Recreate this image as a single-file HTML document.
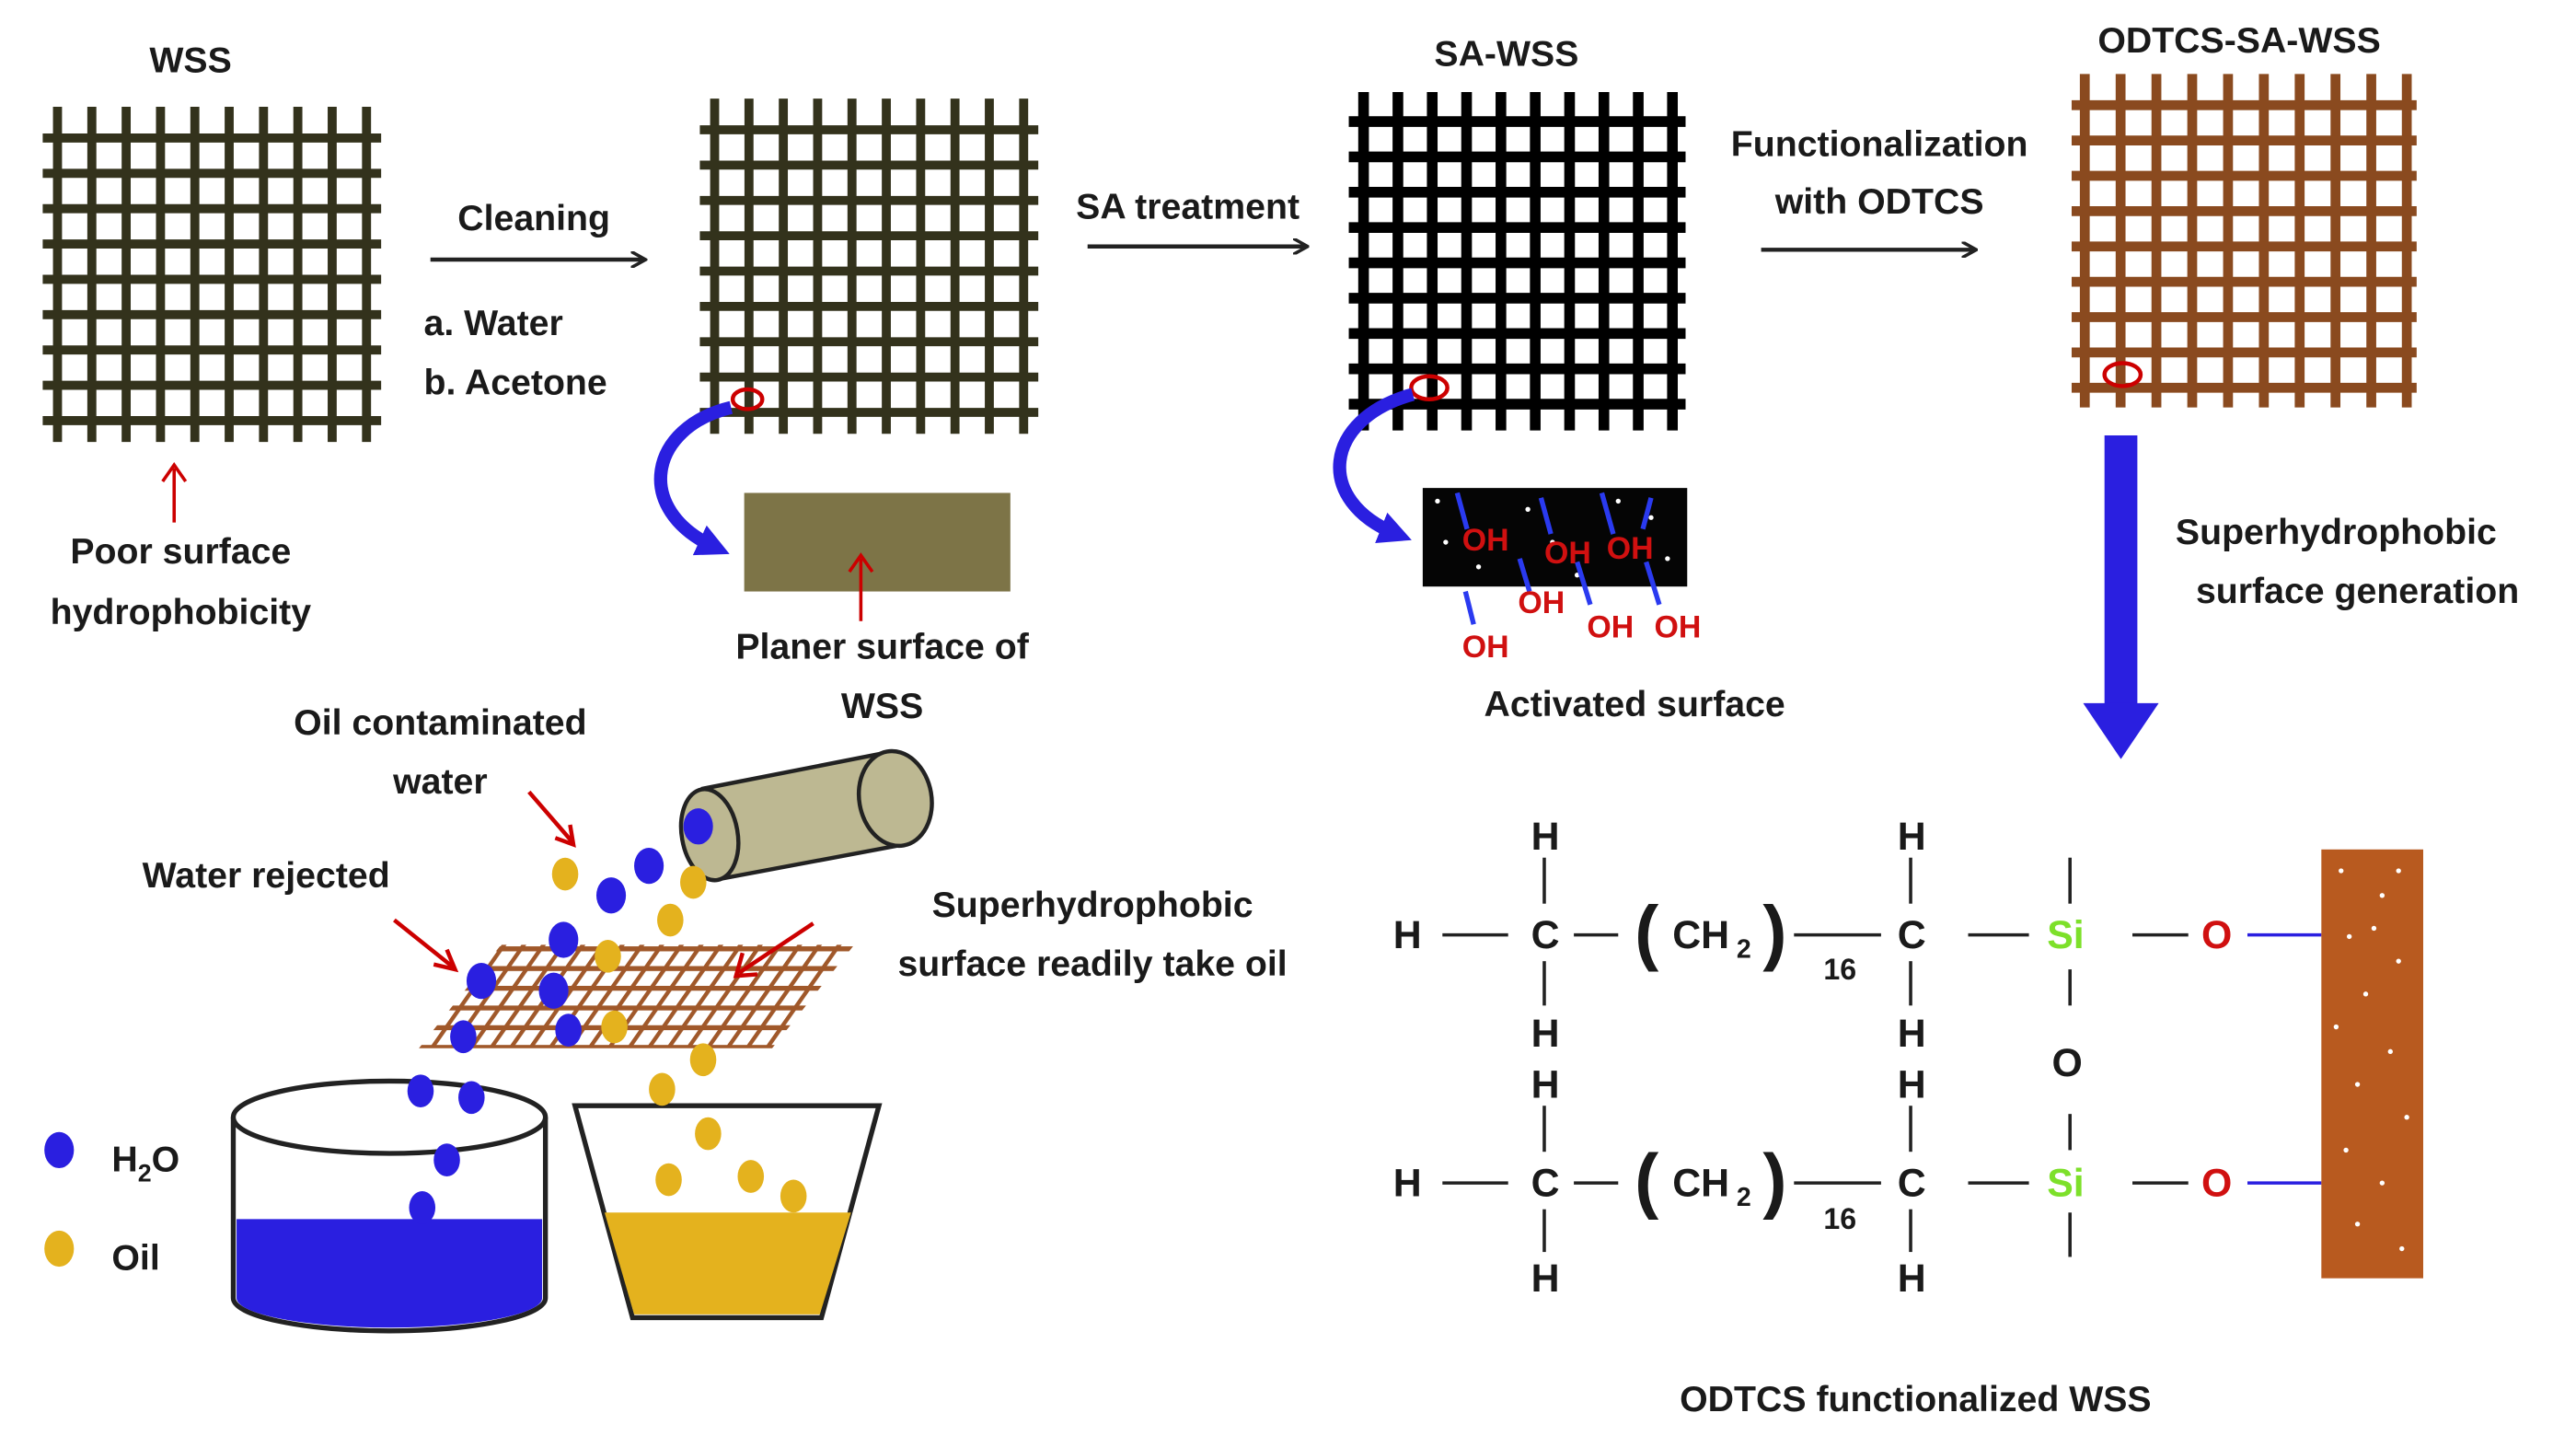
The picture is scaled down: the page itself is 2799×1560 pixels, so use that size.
<!DOCTYPE html>
<html><head><meta charset="utf-8"><style>
html,body{margin:0;padding:0;background:#fff}
svg{display:block}
text{font-family:"Liberation Sans",sans-serif;font-weight:bold;fill:#1a1a1a}
</style></head><body>
<svg width="2799" height="1560" viewBox="0 0 1568 874" preserveAspectRatio="none" xmlns="http://www.w3.org/2000/svg">
<defs>
<pattern id="g5" width="12" height="12" patternUnits="userSpaceOnUse" patternTransform="skewX(-35)">
<rect x="0" y="0" width="3" height="12" fill="#a0582a"/><rect x="0" y="0" width="12" height="3" fill="#a0582a"/></pattern>
<marker id="ah" markerWidth="10" markerHeight="10" refX="8" refY="5" orient="auto" markerUnits="userSpaceOnUse"><path d="M0,0 L9,5 L0,10" fill="none" stroke="#222" stroke-width="2"/></marker>
<marker id="bh" markerWidth="20" markerHeight="20" refX="10" refY="10" orient="auto" markerUnits="userSpaceOnUse"><path d="M0,0 L20,10 L0,20 Z" fill="#2a1fe0"/></marker>
<g id="wss" stroke="#33321c" stroke-width="5.5">
<line x1="35" y1="65" x2="35" y2="269"/><line x1="55.9" y1="65" x2="55.9" y2="269"/><line x1="76.8" y1="65" x2="76.8" y2="269"/><line x1="97.7" y1="65" x2="97.7" y2="269"/><line x1="118.6" y1="65" x2="118.6" y2="269"/><line x1="139.5" y1="65" x2="139.5" y2="269"/><line x1="160.4" y1="65" x2="160.4" y2="269"/><line x1="181.3" y1="65" x2="181.3" y2="269"/><line x1="202.2" y1="65" x2="202.2" y2="269"/><line x1="223.1" y1="65" x2="223.1" y2="269"/>
<line x1="26" y1="84" x2="232" y2="84"/><line x1="26" y1="105.5" x2="232" y2="105.5"/><line x1="26" y1="127" x2="232" y2="127"/><line x1="26" y1="148.5" x2="232" y2="148.5"/><line x1="26" y1="170" x2="232" y2="170"/><line x1="26" y1="191.5" x2="232" y2="191.5"/><line x1="26" y1="213" x2="232" y2="213"/><line x1="26" y1="234.5" x2="232" y2="234.5"/><line x1="26" y1="256" x2="232" y2="256"/>
</g>
</defs>

<!-- grids -->
<use href="#wss"/>
<use href="#wss" x="400" y="-5"/>
<g stroke="#000" stroke-width="6.5">
<line x1="830" y1="56" x2="830" y2="262"/><line x1="850.9" y1="56" x2="850.9" y2="262"/><line x1="871.8" y1="56" x2="871.8" y2="262"/><line x1="892.7" y1="56" x2="892.7" y2="262"/><line x1="913.6" y1="56" x2="913.6" y2="262"/><line x1="934.5" y1="56" x2="934.5" y2="262"/><line x1="955.4" y1="56" x2="955.4" y2="262"/><line x1="976.3" y1="56" x2="976.3" y2="262"/><line x1="997.2" y1="56" x2="997.2" y2="262"/><line x1="1018" y1="56" x2="1018" y2="262"/>
<line x1="821" y1="74" x2="1026" y2="74"/><line x1="821" y1="95.5" x2="1026" y2="95.5"/><line x1="821" y1="117" x2="1026" y2="117"/><line x1="821" y1="138.5" x2="1026" y2="138.5"/><line x1="821" y1="160" x2="1026" y2="160"/><line x1="821" y1="181.5" x2="1026" y2="181.5"/><line x1="821" y1="203" x2="1026" y2="203"/><line x1="821" y1="224.5" x2="1026" y2="224.5"/><line x1="821" y1="246" x2="1026" y2="246"/>
</g>
<g stroke="#8a4a1f" stroke-width="6">
<line x1="1269" y1="45" x2="1269" y2="248"/><line x1="1290.8" y1="45" x2="1290.8" y2="248"/><line x1="1312.6" y1="45" x2="1312.6" y2="248"/><line x1="1334.4" y1="45" x2="1334.4" y2="248"/><line x1="1356.2" y1="45" x2="1356.2" y2="248"/><line x1="1378" y1="45" x2="1378" y2="248"/><line x1="1399.8" y1="45" x2="1399.8" y2="248"/><line x1="1421.6" y1="45" x2="1421.6" y2="248"/><line x1="1443.4" y1="45" x2="1443.4" y2="248"/><line x1="1465" y1="45" x2="1465" y2="248"/>
<line x1="1261" y1="64" x2="1471" y2="64"/><line x1="1261" y1="85.5" x2="1471" y2="85.5"/><line x1="1261" y1="107" x2="1471" y2="107"/><line x1="1261" y1="128.5" x2="1471" y2="128.5"/><line x1="1261" y1="150" x2="1471" y2="150"/><line x1="1261" y1="171.5" x2="1471" y2="171.5"/><line x1="1261" y1="193" x2="1471" y2="193"/><line x1="1261" y1="214.5" x2="1471" y2="214.5"/><line x1="1261" y1="236" x2="1471" y2="236"/>
</g>

<text x="116" y="44" font-size="22" text-anchor="middle">WSS</text>
<text x="917" y="40" font-size="22" text-anchor="middle">SA-WSS</text>
<text x="1363" y="32" font-size="22" text-anchor="middle">ODTCS-SA-WSS</text>

<!-- arrows -->
<line x1="262" y1="158" x2="392" y2="158" stroke="#222" stroke-width="2.5" marker-end="url(#ah)"/>
<text x="325" y="140" font-size="22" text-anchor="middle">Cleaning</text>
<text x="258" y="204" font-size="22">a. Water</text>
<text x="258" y="240" font-size="22">b. Acetone</text>
<line x1="662" y1="150" x2="795" y2="150" stroke="#222" stroke-width="2.5" marker-end="url(#ah)"/>
<text x="723" y="133" font-size="22" text-anchor="middle">SA treatment</text>
<line x1="1072" y1="152" x2="1202" y2="152" stroke="#222" stroke-width="2.5" marker-end="url(#ah)"/>
<text x="1144" y="95" font-size="22" text-anchor="middle">Functionalization</text>
<text x="1144" y="130" font-size="22" text-anchor="middle">with ODTCS</text>

<!-- red arrow WSS -->
<line x1="106" y1="318" x2="106" y2="285" stroke="#c00" stroke-width="2"/>
<path d="M99,293 L106,283 L113,293" fill="none" stroke="#c00" stroke-width="2"/>
<text x="110" y="343" font-size="22" text-anchor="middle">Poor surface</text>
<text x="110" y="380" font-size="22" text-anchor="middle">hydrophobicity</text>

<!-- planar -->
<ellipse cx="455" cy="243" rx="9" ry="6" fill="none" stroke="#c00" stroke-width="2.5"/>
<path d="M445,248 C395,260 385,310 435,333" fill="none" stroke="#2a1fe0" stroke-width="8" marker-end="url(#bh)"/>
<rect x="453" y="300" width="162" height="60" fill="#7d7447"/>
<line x1="524" y1="378" x2="524" y2="340" stroke="#c00" stroke-width="2"/>
<path d="M517,348 L524,338 L531,348" fill="none" stroke="#c00" stroke-width="2"/>
<text x="537" y="401" font-size="22" text-anchor="middle">Planer surface of</text>
<text x="537" y="437" font-size="22" text-anchor="middle">WSS</text>

<!-- activated -->
<ellipse cx="870" cy="236" rx="11" ry="7" fill="none" stroke="#c00" stroke-width="2.5"/>
<path d="M860,240 C805,255 800,305 850,325" fill="none" stroke="#2a1fe0" stroke-width="8" marker-end="url(#bh)"/>
<rect x="866" y="297" width="161" height="60" fill="#050505"/>
<g fill="#fff"><circle cx="875" cy="305" r="1.5"/><circle cx="900" cy="345" r="1.5"/><circle cx="930" cy="310" r="1.5"/><circle cx="960" cy="350" r="1.5"/><circle cx="985" cy="305" r="1.5"/><circle cx="1015" cy="340" r="1.5"/><circle cx="880" cy="330" r="1.5"/><circle cx="1005" cy="315" r="1.5"/><circle cx="945" cy="330" r="1.5"/></g>
<g stroke="#2a3af0" stroke-width="3">
<line x1="887" y1="300" x2="893" y2="322"/><line x1="938" y1="303" x2="944" y2="325"/><line x1="975" y1="300" x2="982" y2="325"/><line x1="925" y1="340" x2="931" y2="360"/><line x1="960" y1="342" x2="968" y2="368"/><line x1="1002" y1="342" x2="1010" y2="368"/><line x1="892" y1="360" x2="897" y2="380"/><line x1="1005" y1="303" x2="1000" y2="322"/></g>
<g font-size="19">
<text x="890" y="335" style="fill:#d01010">OH</text><text x="940" y="343" style="fill:#d01010">OH</text><text x="978" y="340" style="fill:#d01010">OH</text>
<text x="924" y="373" style="fill:#d01010">OH</text><text x="966" y="388" style="fill:#d01010">OH</text><text x="1007" y="388" style="fill:#d01010">OH</text><text x="890" y="400" style="fill:#d01010">OH</text></g>
<text x="995" y="436" font-size="22" text-anchor="middle">Activated surface</text>

<!-- ODTCS circle and big arrow -->
<ellipse cx="1292" cy="228" rx="11" ry="7" fill="none" stroke="#c00" stroke-width="2.5"/>
<rect x="1281" y="265" width="20" height="165" fill="#2a1fe0"/>
<path d="M1268,428 L1314,428 L1291,462 Z" fill="#2a1fe0"/>
<text x="1422" y="331" font-size="22" text-anchor="middle">Superhydrophobic</text>
<text x="1435" y="367" font-size="22" text-anchor="middle">surface generation</text>

<!-- chemistry -->
<g font-size="24">
<text x="848" y="577">H</text>
<line x1="878" y1="569" x2="918" y2="569" stroke="#222" stroke-width="2"/>
<text x="932" y="577">C</text>
<text x="932" y="517">H</text><text x="932" y="637">H</text>
<line x1="940" y1="522" x2="940" y2="550" stroke="#222" stroke-width="2"/>
<line x1="940" y1="585" x2="940" y2="612" stroke="#222" stroke-width="2"/>
<line x1="958" y1="569" x2="985" y2="569" stroke="#222" stroke-width="2"/>
<text x="995" y="582" font-size="44" font-weight="normal">(</text>
<text x="1018" y="577">CH</text><text x="1057" y="583" font-size="16">2</text>
<text x="1073" y="582" font-size="44" font-weight="normal">)</text>
<text x="1110" y="596" font-size="18">16</text>
<line x1="1092" y1="569" x2="1145" y2="569" stroke="#222" stroke-width="2"/>
<text x="1155" y="577">C</text>
<text x="1155" y="517">H</text><text x="1155" y="637">H</text>
<line x1="1163" y1="522" x2="1163" y2="550" stroke="#222" stroke-width="2"/>
<line x1="1163" y1="585" x2="1163" y2="612" stroke="#222" stroke-width="2"/>
<line x1="1198" y1="569" x2="1235" y2="569" stroke="#222" stroke-width="2"/>
<text x="1246" y="577" style="fill:#7de02a">Si</text>
<line x1="1260" y1="522" x2="1260" y2="550" stroke="#222" stroke-width="2"/>
<line x1="1260" y1="590" x2="1260" y2="612" stroke="#222" stroke-width="2"/>
<line x1="1298" y1="569" x2="1332" y2="569" stroke="#222" stroke-width="2"/>
<text x="1340" y="577" style="fill:#d01010">O</text>
<line x1="1368" y1="569" x2="1413" y2="569" stroke="#2a1fe0" stroke-width="2"/>
<text x="1249" y="655">O</text>

<text x="848" y="728">H</text>
<line x1="878" y1="720" x2="918" y2="720" stroke="#222" stroke-width="2"/>
<text x="932" y="728">C</text>
<text x="932" y="668">H</text><text x="932" y="786">H</text>
<line x1="940" y1="673" x2="940" y2="701" stroke="#222" stroke-width="2"/>
<line x1="940" y1="736" x2="940" y2="762" stroke="#222" stroke-width="2"/>
<line x1="958" y1="720" x2="985" y2="720" stroke="#222" stroke-width="2"/>
<text x="995" y="733" font-size="44" font-weight="normal">(</text>
<text x="1018" y="728">CH</text><text x="1057" y="734" font-size="16">2</text>
<text x="1073" y="733" font-size="44" font-weight="normal">)</text>
<text x="1110" y="748" font-size="18">16</text>
<line x1="1092" y1="720" x2="1145" y2="720" stroke="#222" stroke-width="2"/>
<text x="1155" y="728">C</text>
<text x="1155" y="668">H</text><text x="1155" y="786">H</text>
<line x1="1163" y1="673" x2="1163" y2="701" stroke="#222" stroke-width="2"/>
<line x1="1163" y1="736" x2="1163" y2="762" stroke="#222" stroke-width="2"/>
<line x1="1198" y1="720" x2="1235" y2="720" stroke="#222" stroke-width="2"/>
<text x="1246" y="728" style="fill:#7de02a">Si</text>
<line x1="1260" y1="678" x2="1260" y2="700" stroke="#222" stroke-width="2"/>
<line x1="1260" y1="738" x2="1260" y2="765" stroke="#222" stroke-width="2"/>
<line x1="1298" y1="720" x2="1332" y2="720" stroke="#222" stroke-width="2"/>
<text x="1340" y="728" style="fill:#d01010">O</text>
<line x1="1368" y1="720" x2="1413" y2="720" stroke="#2a1fe0" stroke-width="2"/>
</g>
<rect x="1413" y="517" width="62" height="261" fill="#b85a1f"/>
<g fill="#fff"><circle cx="1425" cy="530" r="1.5"/><circle cx="1450" cy="545" r="1.5"/><circle cx="1430" cy="570" r="1.5"/><circle cx="1460" cy="585" r="1.5"/><circle cx="1440" cy="605" r="1.5"/><circle cx="1422" cy="625" r="1.5"/><circle cx="1455" cy="640" r="1.5"/><circle cx="1435" cy="660" r="1.5"/><circle cx="1465" cy="680" r="1.5"/><circle cx="1428" cy="700" r="1.5"/><circle cx="1450" cy="720" r="1.5"/><circle cx="1435" cy="745" r="1.5"/><circle cx="1462" cy="760" r="1.5"/><circle cx="1445" cy="565" r="1.5"/><circle cx="1460" cy="530" r="1.5"/></g>
<text x="1166" y="859" font-size="22" text-anchor="middle">ODTCS functionalized WSS</text>

<!-- oil separation -->
<text x="268" y="447" font-size="22" text-anchor="middle">Oil contaminated</text>
<text x="268" y="483" font-size="22" text-anchor="middle">water</text>
<text x="162" y="540" font-size="22" text-anchor="middle">Water rejected</text>
<text x="665" y="558" font-size="22" text-anchor="middle">Superhydrophobic</text>
<text x="665" y="594" font-size="22" text-anchor="middle">surface readily take oil</text>
<!-- tube -->
<path d="M428,480 L540,458 A16,28 -10 0 1 550,514 L438,535 Z" fill="#bdb892" stroke="#222" stroke-width="2.5"/>
<ellipse cx="545" cy="486" rx="22" ry="29" transform="rotate(-10 545 486)" fill="#bdb892" stroke="#222" stroke-width="2.5"/>
<ellipse cx="432" cy="508" rx="17" ry="28" transform="rotate(-10 432 508)" fill="#bdb892" stroke="#222" stroke-width="2.5"/>
<!-- mesh -->
<path d="M305,575 L520,575 L470,638 L255,638 Z" fill="url(#g5)"/>
<!-- red arrows -->
<g stroke="#c00" stroke-width="2.5" fill="none">
<line x1="322" y1="482" x2="348" y2="512"/><path d="M338,510 L349,514 L347,502"/>
<line x1="240" y1="560" x2="275" y2="588"/><path d="M264,587 L277,590 L272,578"/>
<line x1="495" y1="562" x2="450" y2="592"/><path d="M452,580 L448,594 L461,593"/>
</g>
<!-- beakers -->
<path d="M142,680 L142,790 A95,20 0 0 0 332,790 L332,680" fill="#fff" stroke="#222" stroke-width="3"/>
<path d="M144,742 L330,742 L330,790 A93,18 0 0 1 144,790 Z" fill="#2a1fe0"/>
<ellipse cx="237" cy="680" rx="95" ry="22" fill="#fff" stroke="#222" stroke-width="3"/>
<path d="M350,673 L535,673 L500,802 L385,802 Z" fill="#fff" stroke="#222" stroke-width="3"/>
<path d="M368,738 L518,738 L499,800 L386,800 Z" fill="#e4b21e"/>
<!-- droplets -->
<g fill="#2a1fe0">
<ellipse cx="425" cy="503" rx="9" ry="11"/><ellipse cx="395" cy="527" rx="9" ry="11"/><ellipse cx="372" cy="545" rx="9" ry="11"/><ellipse cx="343" cy="572" rx="9" ry="11"/><ellipse cx="337" cy="603" rx="9" ry="11"/><ellipse cx="293" cy="597" rx="9" ry="11"/><ellipse cx="346" cy="627" rx="8" ry="10"/><ellipse cx="282" cy="631" rx="8" ry="10"/><ellipse cx="256" cy="664" rx="8" ry="10"/><ellipse cx="287" cy="668" rx="8" ry="10"/><ellipse cx="272" cy="706" rx="8" ry="10"/><ellipse cx="257" cy="735" rx="8" ry="10"/><ellipse cx="36" cy="700" rx="9" ry="11"/></g>
<g fill="#e4b21e">
<ellipse cx="344" cy="532" rx="8" ry="10"/><ellipse cx="408" cy="560" rx="8" ry="10"/><ellipse cx="370" cy="582" rx="8" ry="10"/><ellipse cx="422" cy="537" rx="8" ry="10"/><ellipse cx="374" cy="625" rx="8" ry="10"/><ellipse cx="403" cy="663" rx="8" ry="10"/><ellipse cx="428" cy="645" rx="8" ry="10"/><ellipse cx="431" cy="690" rx="8" ry="10"/><ellipse cx="407" cy="718" rx="8" ry="10"/><ellipse cx="457" cy="716" rx="8" ry="10"/><ellipse cx="483" cy="728" rx="8" ry="10"/><ellipse cx="36" cy="760" rx="9" ry="11"/></g>
<text x="68" y="713" font-size="22">H<tspan font-size="15" dy="6">2</tspan><tspan dy="-6">O</tspan></text>
<text x="68" y="773" font-size="22">Oil</text>
</svg>
</body></html>
